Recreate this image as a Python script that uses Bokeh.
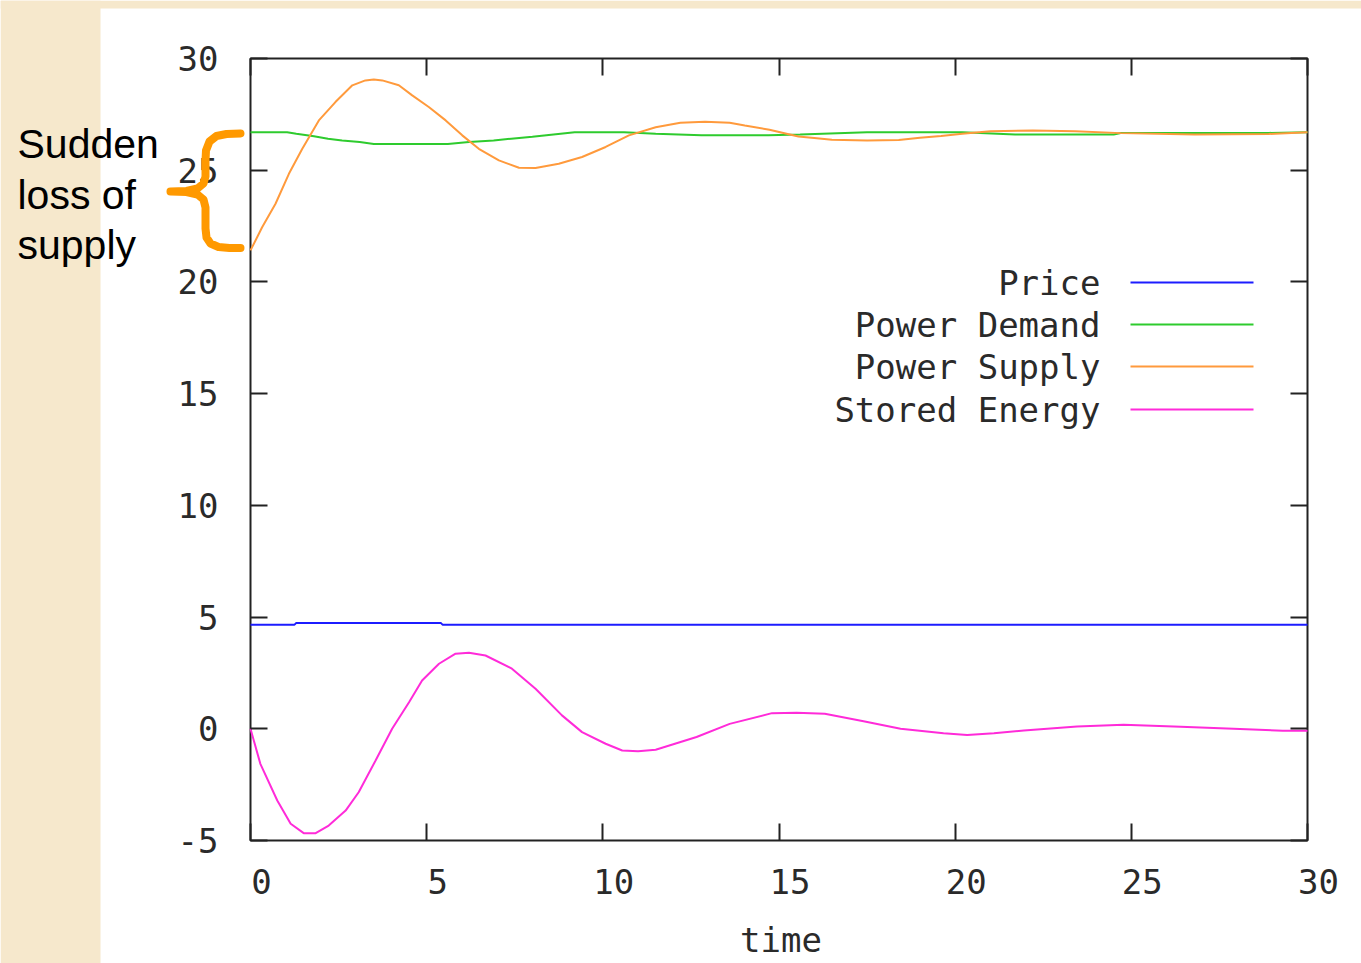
from bokeh.plotting import figure
from bokeh.models import (FixedTicker, LinearAxis, CustomJSTickFormatter, Label, BoxAnnotation,
                          PolyAnnotation, Range1d)
from bokeh.embed import file_html
from bokeh.resources import INLINE

# ---------------- data ----------------
price_t = [0, 1.25, 1.3, 5.4, 5.45, 30]
price_v = [4.66, 4.66, 4.74, 4.74, 4.66, 4.66]

demand_t = [0, 1.04, 1.3, 1.8, 2.2, 2.6, 3.1, 3.5, 5.6, 6.2, 6.9, 7.4, 8.0, 8.6, 9.2,
            10.6, 11.5, 12.8, 14.7, 15.6, 17.5, 20.2, 21.7, 24.5, 24.7, 28.9, 30]
demand_v = [26.70, 26.70, 26.63, 26.52, 26.41, 26.33, 26.26, 26.17, 26.17, 26.26, 26.33,
            26.41, 26.50, 26.60, 26.70, 26.70, 26.63, 26.56, 26.56, 26.60, 26.70, 26.70,
            26.60, 26.60, 26.67, 26.67, 26.70]

supply_t = [0, 0.33, 0.71, 1.09, 1.47, 1.94, 2.41, 2.89, 3.26, 3.5, 3.74, 4.21, 4.59, 5.06,
            5.54, 6.01, 6.48, 7.05, 7.62, 8.09, 8.75, 9.41, 10.08, 10.74, 11.5, 12.2, 12.9,
            13.6, 14.03, 14.73, 15.55, 16.0, 16.5, 17.5, 18.4, 19.0, 19.6, 20.2, 21.0, 22.2,
            23.4, 24.7, 26.8, 28.9, 30]
supply_v = [21.41, 22.45, 23.50, 24.84, 25.96, 27.23, 28.05, 28.80, 29.02, 29.06, 29.02,
            28.80, 28.35, 27.83, 27.23, 26.56, 25.96, 25.44, 25.11, 25.10, 25.29, 25.59,
            26.04, 26.56, 26.92, 27.12, 27.17, 27.12, 27.0, 26.81, 26.51, 26.44, 26.36,
            26.33, 26.35, 26.45, 26.53, 26.63, 26.74, 26.78, 26.74, 26.66, 26.60, 26.62, 26.70]

stored_t = [0, 0.28, 0.76, 1.14, 1.51, 1.85, 2.22, 2.70, 3.07, 3.55, 4.02, 4.50, 4.87, 5.35,
            5.82, 6.20, 6.67, 7.42, 8.09, 8.84, 9.41, 10.08, 10.55, 11.0, 11.5, 12.66, 13.6,
            14.8, 15.5, 16.3, 17.4, 18.45, 19.67, 20.34, 21.1, 21.95, 23.46, 24.78, 26.4,
            27.9, 29.3, 30]
stored_v = [0.0, -1.57, -3.21, -4.25, -4.67, -4.67, -4.33, -3.66, -2.84, -1.42, 0.0, 1.19,
            2.16, 2.91, 3.36, 3.40, 3.28, 2.69, 1.79, 0.60, -0.15, -0.67, -0.97, -1.0, -0.94,
            -0.37, 0.22, 0.70, 0.72, 0.67, 0.34, 0.0, -0.2, -0.28, -0.2, -0.08, 0.1, 0.18,
            0.09, 0.0, -0.09, -0.09]

series_names = ["Price", "Power Demand", "Power Supply", "Stored Energy"]
series_colors = ["#1c1cff", "#2ecb2e", "#ff9a3c", "#ff2bd9"]

x_ticks = [0, 5, 10, 15, 20, 25, 30]
y_ticks = [-5, 0, 5, 10, 15, 20, 25, 30]
x_label = "time"
note_lines = ["Sudden", "loss of", "supply"]

# ---------------- layout constants (canvas pixels) ----------------
W, H = 1361, 963
BX_L, BX_R, BX_T, BX_B = 250, 1307, 58, 840      # plot box in canvas pixels
X_MIN, X_MAX, Y_MIN, Y_MAX = 0, 30, -5, 30
SX = (BX_R - BX_L) / (X_MAX - X_MIN)
SY = (BX_B - BX_T) / (Y_MAX - Y_MIN)
XLAB_SHIFT = 11                                   # gnuplot draws x labels a bit right

MONO = "DejaVu Sans Mono"
TXT = "#2a2a2a"
AX = "#222222"
PARCH = "#f6e8cc"

x0, x1 = X_MIN - BX_L / SX, X_MAX + (W - BX_R) / SX
# the drawing frame covers the whole canvas so that the side notes are not clipped;
# axes sit on the canvas edges and reach the plot box with negative offsets
p = figure(width=W, height=H, x_range=(x0, x1),
           y_range=(Y_MIN - (H - BX_B) / SY, Y_MAX + BX_T / SY),
           output_backend="svg", toolbar_location=None,
           min_border_left=0, min_border_right=0, min_border_top=0, min_border_bottom=0,
           background_fill_color="white", border_fill_color="white")
p.outline_line_color = None
p.grid.visible = False
p.extra_x_ranges = {"xlab": Range1d(x0 - XLAB_SHIFT / SX, x1 - XLAB_SHIFT / SX)}

# parchment strips (left and top)
for l, r, t, b in [(0, 100, 0, H), (0, W, 0, 8)]:
    p.add_layout(BoxAnnotation(left=l, right=r, top=t, bottom=b,
                               left_units="canvas", right_units="canvas",
                               top_units="canvas", bottom_units="canvas",
                               fill_color=PARCH, fill_alpha=1.0, line_color=None,
                               level="underlay"))

# plot box
p.add_layout(BoxAnnotation(left=X_MIN, right=X_MAX, bottom=Y_MIN, top=Y_MAX,
                           fill_alpha=0, line_color=AX, line_alpha=1.0, line_width=2,
                           level="underlay"))

xa = p.xaxis[0]
ya = p.yaxis[0]
xa.formatter = CustomJSTickFormatter(code="return ''")
top_ax = LinearAxis(formatter=CustomJSTickFormatter(code="return ''"))
right_ax = LinearAxis(formatter=CustomJSTickFormatter(code="return ''"))
p.add_layout(top_ax, "above")
p.add_layout(right_ax, "right")

for ax, ticks, dist in [(xa, x_ticks, H - BX_B), (ya, y_ticks, BX_L),
                        (top_ax, x_ticks, BX_T), (right_ax, y_ticks, W - BX_R)]:
    ax.ticker = FixedTicker(ticks=ticks)
    ax.axis_line_color = None
    ax.major_tick_line_color = AX
    ax.major_tick_line_width = 2
    ax.major_tick_out = -dist
    ax.major_tick_in = dist + 17
    ax.minor_tick_line_color = None
    ax.major_label_text_font = MONO
    ax.major_label_text_font_size = "34px"
    ax.major_label_text_color = TXT

for ax in (xa, top_ax, right_ax):
    ax.major_label_standoff = -20
    ax.major_label_text_font_size = "1px"

# x tick labels on their own (label-only) axis, offset like gnuplot's
xlab_ax = LinearAxis(x_range_name="xlab", ticker=FixedTicker(ticks=x_ticks))
xlab_ax.axis_line_color = None
xlab_ax.major_tick_line_color = None
xlab_ax.minor_tick_line_color = None
xlab_ax.major_tick_in = 0
xlab_ax.major_tick_out = 0
xlab_ax.major_label_text_font = MONO
xlab_ax.major_label_text_font_size = "34px"
xlab_ax.major_label_text_color = TXT
xlab_ax.major_label_standoff = (BX_B + 28) - H     # label tops 28px under the box
p.add_layout(xlab_ax, "below")

ya.major_label_standoff = -(BX_L - 32)             # label right edges 32px left of the box
ya.major_label_overrides = {-5: "-5"}

p.add_layout(Label(x=(BX_L + BX_R) / 2 + 2, y=939, x_units="canvas", y_units="canvas",
                   text=x_label, text_align="center", text_baseline="middle",
                   text_font=MONO, text_font_size="34px", text_color=TXT))

# ---------------- series ----------------
all_t = [price_t, demand_t, supply_t, stored_t]
all_v = [price_v, demand_v, supply_v, stored_v]
for t, v, c in zip(all_t, all_v, series_colors):
    p.line(t, v, line_color=c, line_width=2)

# ---------------- legend (gnuplot style: text then sample line) ----------------
leg_rows = [282, 324, 366, 409]
for name, c, ry in zip(series_names, series_colors, leg_rows):
    p.add_layout(Label(x=1100, y=ry, x_units="canvas", y_units="canvas", text=name,
                       text_align="right", text_baseline="middle", text_font=MONO,
                       text_font_size="34px", text_color=TXT))
    p.add_layout(PolyAnnotation(xs=[1130, 1253], ys=[ry, ry], xs_units="canvas",
                                ys_units="canvas", fill_alpha=0, line_color=c,
                                line_alpha=1.0, line_width=2))

# ---------------- annotation: brace + note ----------------
brace_px = [(240, 133), (226, 133.5), (216, 135.5), (209, 141), (205.5, 150), (205, 160),
            (205, 176), (203, 183), (197, 188), (186, 190.5), (170, 191),
            (186, 191.5), (197, 194), (203, 199), (205, 207), (205, 228), (206, 237),
            (210, 243), (218, 246.5), (229, 247.5), (240, 247.5)]
bx = [a for a, b in brace_px]
by = [b for a, b in brace_px]
p.add_layout(PolyAnnotation(xs=bx + bx[::-1], ys=by + by[::-1],
                            xs_units="canvas", ys_units="canvas", fill_alpha=0,
                            line_color="#ff9900", line_alpha=1.0, line_width=8,
                            line_join="round"))

for txt, mid in zip(note_lines, [143, 194, 244]):
    p.add_layout(Label(x=17, y=mid, x_units="canvas", y_units="canvas", text=txt,
                       text_align="left", text_baseline="middle",
                       text_font="Liberation Sans", text_font_size="41px",
                       text_color="#000000"))

open("out.html", "w").write(file_html(p, INLINE))
